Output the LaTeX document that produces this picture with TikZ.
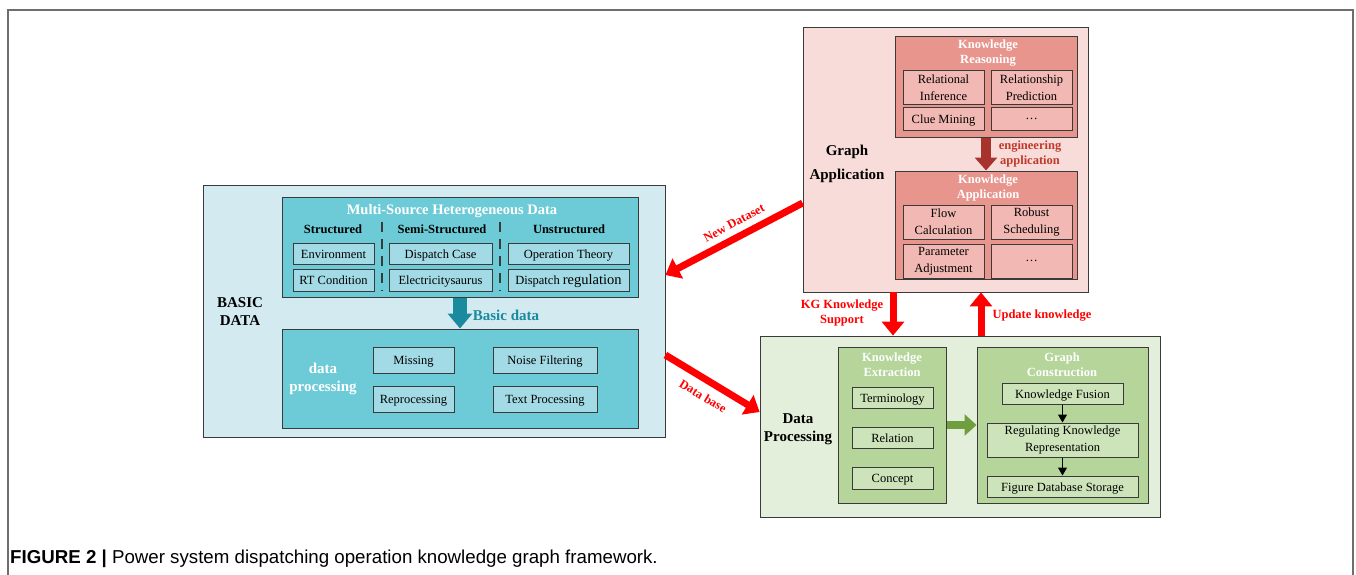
\documentclass[tikz,border=0pt]{standalone}
\usepackage{fontspec}
\setmainfont{Liberation Serif}
\newfontfamily\capfont{Liberation Sans}
\usetikzlibrary{arrows.meta}

\definecolor{bdOuter}{HTML}{D3EAF0}
\definecolor{bdInner}{HTML}{6CCBD7}
\definecolor{bdCell}{HTML}{A2DBE5}
\definecolor{bdArrow}{HTML}{1A8A9E}
\definecolor{gaOuter}{HTML}{F8DCDA}
\definecolor{gaInner}{HTML}{E8958E}
\definecolor{gaCell}{HTML}{F2B8B3}
\definecolor{gaArrow}{HTML}{A8322C}
\definecolor{gaText}{HTML}{C0392B}
\definecolor{dpOuter}{HTML}{E3EFDA}
\definecolor{dpInner}{HTML}{B5D59B}
\definecolor{dpCell}{HTML}{CDE4BA}
\definecolor{dpArrow}{HTML}{6E9E3E}
\definecolor{frameGray}{HTML}{6E6E6E}
\definecolor{edge}{HTML}{3A3A3A}

\tikzset{
  panel/.style={draw=edge, line width=0.8pt, inner sep=0pt},
  group/.style={draw=edge, line width=1pt, inner sep=0pt},
  cellbase/.style={draw=edge, line width=1pt, inner sep=0pt,
    font=\fontsize{12.5}{17}\selectfont},
  cell/.style={cellbase, text height=9pt, text depth=0pt},
  cellii/.style={cellbase, align=center},
  celldots/.style={cellbase},
  lbl/.style={inner sep=0pt},
  lblii/.style={lbl, align=center},
  side/.style={lblii, font=\bfseries\fontsize{15}{18}\selectfont},
  whitehead/.style={lblii, text=white, font=\bfseries\fontsize{12.5}{15}\selectfont},
  colhead/.style={lbl, font=\bfseries\fontsize{12.5}{15}\selectfont},
  redlbl/.style={lbl, text=red, font=\bfseries\fontsize{12.5}{15}\selectfont},
  redarrow/.style={draw=red, line width=7pt, -{Triangle[length=14pt,width=22pt]}},
  separator/.style={draw=edge, line width=1.3pt, dash pattern=on 10pt off 7pt},
}

\begin{document}
\begin{tikzpicture}[x=1pt, y=-1pt]
\useasboundingbox (0,0) rectangle (1356,575);

% open page frame
\draw[frameGray, line width=1.2pt] (8,575) -- (8,10) -- (1353,10) -- (1353,575);

% ---------------- BASIC DATA ----------------
\node[panel, fill=bdOuter, minimum width=462pt, minimum height=252pt] (basic) at (434,311) {};
\node[side] (basiclbl) at (240,312) {BASIC\\DATA};

\node[group, fill=bdInner, minimum width=356pt, minimum height=100pt] (msh) at (460,247) {};
\node[lbl, text=white, font=\bfseries\fontsize{14.5}{17}\selectfont] (mshlbl) at (452,211.5) {Multi-Source Heterogeneous Data};
\node[colhead] (hstr) at (333,229) {Structured};
\node[colhead] (hsemi) at (442,229) {Semi-Structured};
\node[colhead] (hun) at (569,229) {Unstructured};
\draw[separator] (382,222) -- (382,291);
\draw[separator] (500,222) -- (500,291);

\node[cell, fill=bdCell, minimum width=81pt, minimum height=21pt] (env) at (333.5,253.5) {Environment};
\node[cell, fill=bdCell, minimum width=81pt, minimum height=22pt] (rtc) at (333.5,280) {RT Condition};
\node[cell, fill=bdCell, minimum width=103pt, minimum height=21pt] (dcase) at (440.5,253.5) {Dispatch Case};
\node[cell, fill=bdCell, minimum width=103pt, minimum height=22pt] (elec) at (440.5,280) {Electricitysaurus};
\node[cell, fill=bdCell, minimum width=121pt, minimum height=21pt] (optheory) at (568.5,253.5) {Operation Theory};
\node[cell, fill=bdCell, minimum width=121pt, minimum height=22pt] (dreg) at (568.5,280) {Dispatch {\fontsize{14.5}{17}\selectfont regulation}};

\node[group, fill=bdInner, minimum width=356pt, minimum height=99pt] (dp) at (460,378.5) {};
\node[lblii, text=white, font=\bfseries\fontsize{15}{18}\selectfont] (dplbl) at (323,379) {data\\processing};
\node[cell, fill=bdCell, minimum width=81pt, minimum height=26pt] (missing) at (413.5,360) {Missing};
\node[cell, fill=bdCell, minimum width=104pt, minimum height=26pt] (noise) at (545,360) {Noise Filtering};
\node[cell, fill=bdCell, minimum width=81pt, minimum height=26pt] (repro) at (413.5,399) {Reprocessing};
\node[cell, fill=bdCell, minimum width=104pt, minimum height=26pt] (textp) at (545,399) {Text Processing};

\draw[bdArrow, line width=14pt, -{Triangle[length=15pt,width=24pt]}] (msh.south) -- (dp.north);
\node[lbl, text=bdArrow, font=\bfseries\fontsize{15}{18}\selectfont] (basiclabel) at (506,315) {Basic data};

% ---------------- GRAPH APPLICATION ----------------
\node[panel, fill=gaOuter, minimum width=285pt, minimum height=265pt] (ga) at (945.5,159.5) {};
\node[side] (galbl) at (847,164) {Graph\\[6pt]Application};

\node[group, fill=gaInner, minimum width=182pt, minimum height=100pt] (kr) at (986,87) {};
\node[whitehead] (krlbl) at (988,53) {Knowledge\\Reasoning};
\node[cellii, fill=gaCell, minimum width=81pt, minimum height=34pt] (relinf) at (943.5,88) {Relational\\Inference};
\node[cellii, fill=gaCell, minimum width=81pt, minimum height=34pt] (relpred) at (1031.5,88) {Relationship\\Prediction};
\node[cell, fill=gaCell, minimum width=81pt, minimum height=22pt] (clue) at (943.5,119) {Clue Mining};
\node[celldots, fill=gaCell, minimum width=81pt, minimum height=22pt] (dotsa) at (1031.5,119) {\dots};

\node[group, fill=gaInner, minimum width=182pt, minimum height=108pt] (ka) at (986,225) {};
\node[whitehead] (kalbl) at (988,188) {Knowledge\\Application};
\node[cellii, fill=gaCell, minimum width=81pt, minimum height=34pt] (flow) at (943.5,222) {Flow\\Calculation};
\node[cellii, fill=gaCell, minimum width=81pt, minimum height=34pt] (robust) at (1031.5,222) {Robust\\Scheduling};
\node[cellii, fill=gaCell, minimum width=81pt, minimum height=34pt] (param) at (943.5,261) {Parameter\\Adjustment};
\node[celldots, fill=gaCell, minimum width=81pt, minimum height=34pt] (dotsb) at (1031.5,261) {\dots};

\draw[gaArrow, line width=10pt, -{Triangle[length=13pt,width=22pt]}] (kr.south) -- (ka.north);
\node[lblii, text=gaText, font=\bfseries\fontsize{12.5}{15}\selectfont] (englbl) at (1030,154) {engineering\\application};

% ---------------- DATA PROCESSING ----------------
\node[panel, fill=dpOuter, minimum width=400pt, minimum height=181pt] (dproc) at (960,426.5) {};
\node[side] (dproclbl) at (798,429) {Data\\Processing};

\node[group, fill=dpInner, minimum width=108pt, minimum height=156pt] (ke) at (892,425) {};
\node[whitehead] (kelbl) at (892,365) {Knowledge\\Extraction};
\node[cell, fill=dpCell, minimum width=81pt, minimum height=21pt] (term) at (892.5,397.5) {Terminology};
\node[cell, fill=dpCell, minimum width=81pt, minimum height=21pt] (rel) at (892.5,437.5) {Relation};
\node[cell, fill=dpCell, minimum width=81pt, minimum height=22pt] (concept) at (892.5,478) {Concept};

\node[group, fill=dpInner, minimum width=171pt, minimum height=156pt] (gc) at (1062.5,425) {};
\node[whitehead] (gclbl) at (1062,365) {Graph\\Construction};
\node[cell, fill=dpCell, minimum width=121pt, minimum height=21pt] (kf) at (1062.5,393.5) {Knowledge Fusion};
\node[cellii, fill=dpCell, minimum width=151pt, minimum height=34pt] (rkr) at (1062.5,440) {Regulating Knowledge\\Representation};
\node[cell, fill=dpCell, minimum width=151pt, minimum height=21pt] (fds) at (1062.5,486.5) {Figure Database Storage};

\draw[line width=1pt, -{Triangle[length=8pt,width=9pt]}] (kf.south) -- (rkr.north);
\draw[line width=1pt, -{Triangle[length=8pt,width=9pt]}] (rkr.south) -- (fds.north);
\draw[dpArrow, line width=8pt, -{Triangle[length=12pt,width=21pt]}] (ke.east) -- (gc.west);

% ---------------- links between the three parts ----------------
\coordinate (kgx) at (893,0);
\coordinate (upx) at (981,0);
\coordinate (ndy) at (0,203);
\coordinate (ndt) at (0,275);
\coordinate (dby) at (0,355);
\coordinate (dbt) at (0,412);

\draw[redarrow] (ga.south -| kgx) -- (dproc.north -| kgx);
\draw[redarrow] (dproc.north -| upx) -- (ga.south -| upx);
\draw[redarrow] (ga.west |- ndy) -- (basic.east |- ndt);
\draw[redarrow] (basic.east |- dby) -- (dproc.west |- dbt);

\node[redlbl, align=center] (kglbl) at (842,313) {KG Knowledge\\Support};
\node[redlbl] (uplbl) at (1042,316) {Update knowledge};
\node[redlbl, rotate=28] (ndlbl) at (734,223) {New Dataset};
\node[redlbl, rotate=-31] (dblbl) at (703,396) {Data base};

% ---------------- caption ----------------
\node[anchor=base west, inner sep=0pt, font=\capfont\fontsize{18.7}{21}\selectfont] (cap) at (10,563)
  {\textbf{FIGURE 2 |} Power system dispatching operation knowledge graph framework.};
\end{tikzpicture}
\end{document}
